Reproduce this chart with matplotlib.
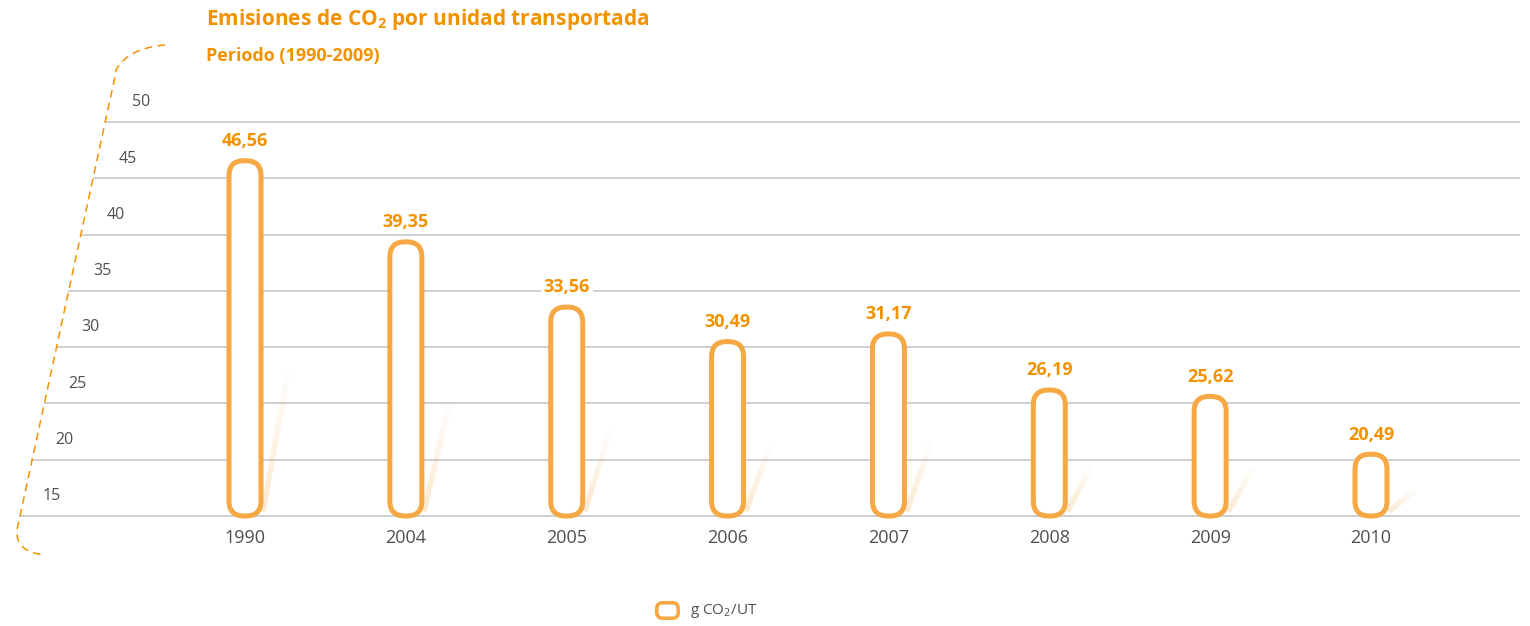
import matplotlib
matplotlib.use("Agg")
import matplotlib.pyplot as plt
from matplotlib.patches import FancyBboxPatch, PathPatch
from matplotlib.path import Path
from matplotlib.collections import LineCollection
import numpy as np

years = ["1990", "2004", "2005", "2006", "2007", "2008", "2009", "2010"]
values = [46.56, 39.35, 33.56, 30.49, 31.17, 26.19, 25.62, 20.49]
ticks = [15, 20, 25, 30, 35, 40, 45, 50]
base = 15

ORANGE = "#F5A843"
ORANGE_TXT = "#F39200"
GREY_TXT = "#4D4F53"
GRID = "#C9CCD0"

plt.rcParams["font.family"] = ["Open Sans", "DejaVu Sans"]
plt.rcParams["mathtext.fontset"] = "custom"
plt.rcParams["mathtext.rm"] = "Open Sans"
plt.rcParams["mathtext.bf"] = "Open Sans:bold"

W, H = 1530, 626
fig = plt.figure(figsize=(W / 100, H / 100), dpi=100)
ax = fig.add_axes([0, 0, 1, 1])

# pixel layout of the reference: first bar centre, bar spacing, baseline, px per unit
x0_px, step_px = 245, 160.86
base_px, unit_px = 516, 11.257


def px2x(px):
    return (px - x0_px) / step_px


def py2y(py):
    return base + (base_px - py) / unit_px


ax.set_xlim(px2x(0), px2x(W))
ax.set_ylim(py2y(H), py2y(0))
ax.axis("off")

aspect = step_px / unit_px

# gridlines and slanted tick labels
for k, t in enumerate(ticks):
    ax.hlines(t, px2x(19 + 12.3 * k), px2x(1520), color=GRID, lw=1.3, zorder=1)
    ax.text(px2x(52 + 12.7 * k), t + 1.75, str(t), ha="center", va="center",
            fontsize=11.5, color=GREY_TXT)

# dashed bracket on the left
verts = [(165, 45), (128, 48), (116, 70), (116, 72),
         (17, 530), (15, 552), (45, 555)]
codes = [Path.MOVETO, Path.CURVE3, Path.CURVE3, Path.LINETO,
         Path.LINETO, Path.CURVE3, Path.CURVE3]
bracket = Path([(px2x(a), py2y(b)) for a, b in verts], codes)
ax.add_patch(PathPatch(bracket, fill=False, ec=ORANGE_TXT, lw=1.1,
                       linestyle=(0, (5, 3.5)), zorder=2))

bw = 32 / step_px
rad = 15 / step_px
for i, (yr, v) in enumerate(zip(years, values)):
    # faint streak to the right of each bar
    xs = i + bw / 2 + 2 / step_px
    xe = xs + 26 / step_px
    ye = base + 0.42 * (v - base)
    n = 30
    sx = np.linspace(xs, xe, n + 1)
    sy = np.linspace(base + 0.4, ye, n + 1)
    segs = [[(sx[j], sy[j]), (sx[j + 1], sy[j + 1])] for j in range(n)]
    cols = [(0.96, 0.66, 0.26, 0.25 * (1 - j / n)) for j in range(n)]
    ax.add_collection(LineCollection(segs, colors=cols, linewidths=4, zorder=2))

    bar = FancyBboxPatch((i - bw / 2, base), bw, v - base,
                         boxstyle=f"round,pad=0,rounding_size={rad}",
                         mutation_aspect=aspect, fc="white", ec=ORANGE,
                         lw=3.6, zorder=3)
    ax.add_patch(bar)
    ax.annotate(f"{v:.2f}".replace(".", ","), (i, v), xytext=(0, 10.5),
                textcoords="offset points", ha="center", va="baseline",
                fontsize=13, fontweight="bold", color=ORANGE_TXT, zorder=4,
                bbox=dict(fc="white", ec="none", pad=2))
    ax.annotate(yr, (i, base), xytext=(0, -16), textcoords="offset points",
                ha="center", va="center", fontsize=13, color=GREY_TXT)

# title
fig.text(206 / W, 1 - 20 / H, r"Emisiones de CO$_\mathbf{2}$ por unidad transportada",
         ha="left", va="center", fontsize=15, fontweight="bold", color=ORANGE_TXT)
fig.text(206 / W, 1 - 56 / H, "Periodo (1990-2009)", ha="left", va="center",
         fontsize=13, fontweight="bold", color=ORANGE_TXT)

# legend
lw_box, lh_box = 21.5 / step_px, 15.5 / unit_px
lx, ly = px2x(667.5), py2y(610.5)
ax.add_patch(FancyBboxPatch((lx - lw_box / 2, ly - lh_box / 2), lw_box, lh_box,
                            boxstyle=f"round,pad=0,rounding_size={6 / step_px}",
                            mutation_aspect=aspect, fc="white", ec=ORANGE,
                            lw=2.6, clip_on=False, zorder=3))
ax.text(px2x(690), ly, r"g CO$_2$/UT", ha="left", va="center", fontsize=11,
        color=GREY_TXT)

fig.savefig("out.png", dpi=100, facecolor="white")
